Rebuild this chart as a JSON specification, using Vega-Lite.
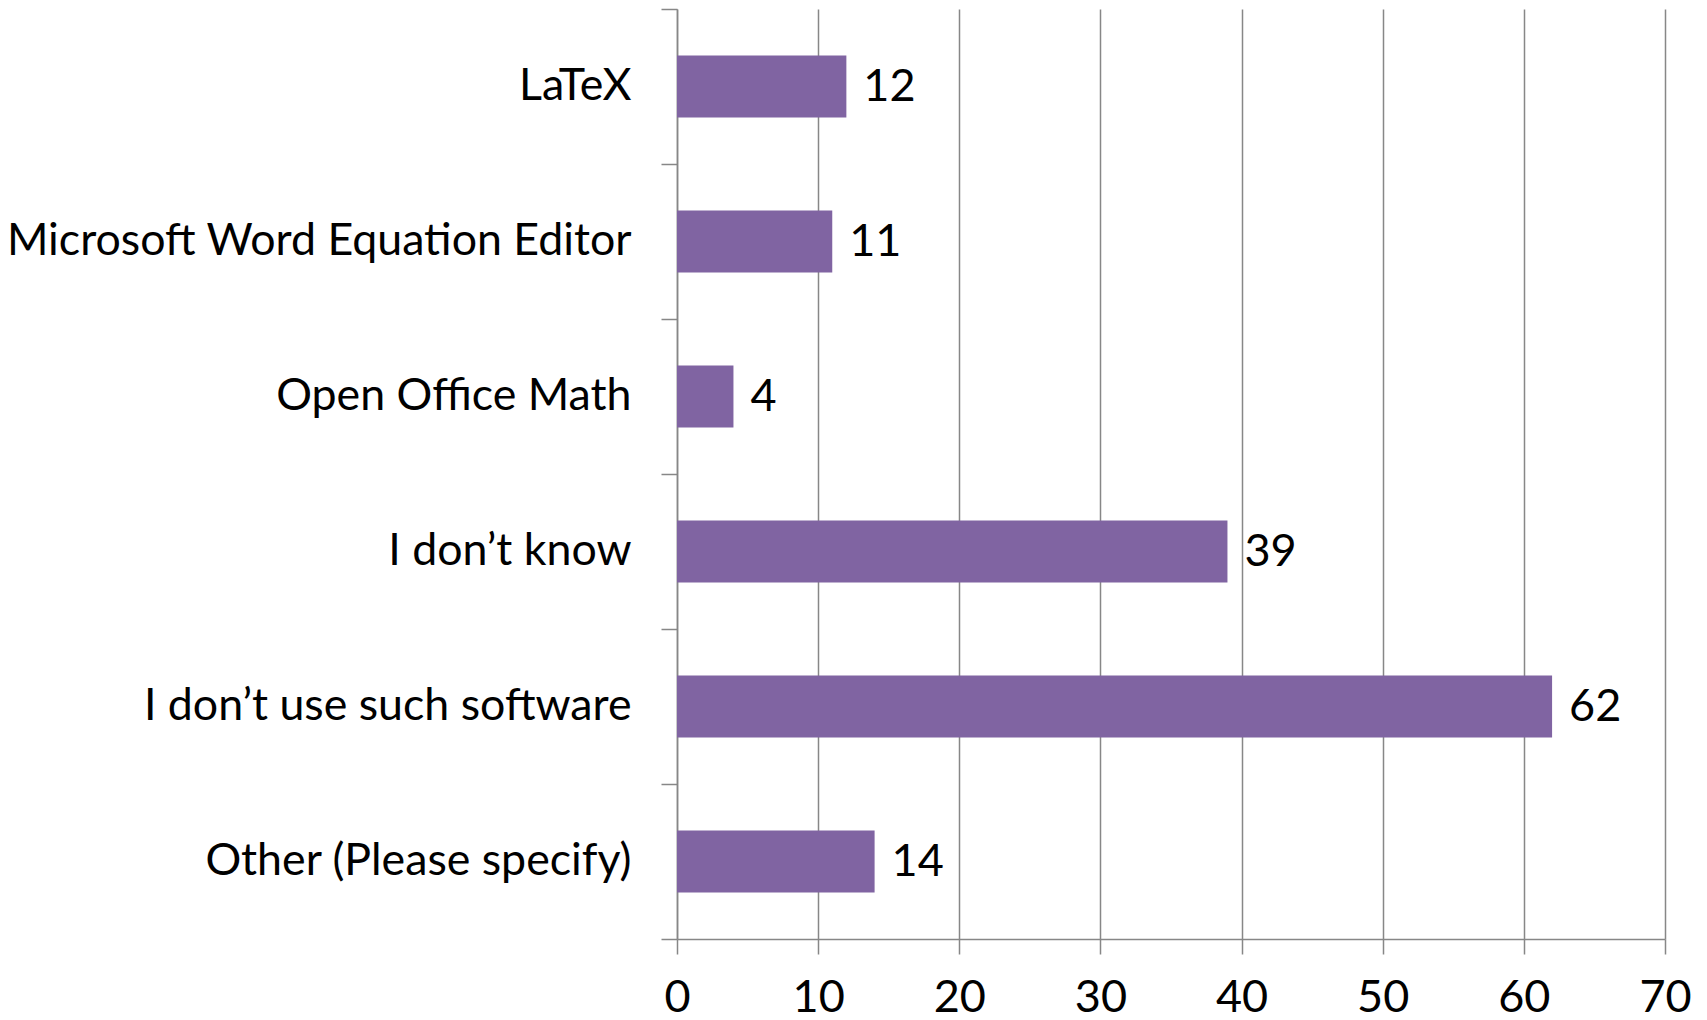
{
  "$schema": "https://vega.github.io/schema/vega-lite/v6.json",
  "autosize": "none",
  "width": 988,
  "height": 930,
  "padding": {"left": 677, "top": 9, "right": 42, "bottom": 81},
  "background": "white",
  "config": {"view": {"stroke": null}, "font": "Lato"},
  "data": {"values": [
    {"software": "LaTeX", "count": 12},
    {"software": "Microsoft Word Equation Editor", "count": 11},
    {"software": "Open Office Math", "count": 4},
    {"software": "I don’t know", "count": 39},
    {"software": "I don’t use such software", "count": 62},
    {"software": "Other (Please specify)", "count": 14}
  ]},
  "encoding": {
    "y": {"field": "software", "type": "nominal", "sort": null,
      "scale": {"paddingInner": 0, "paddingOuter": 0},
      "axis": {"title": null, "tickBand": "extent", "tickSize": 16, "tickColor": "#878787", "tickWidth": 1.5,
        "domainColor": "#878787", "domainWidth": 1.5, "labelFontSize": 44.7, "labelColor": "#000000",
        "labelPadding": 30, "labelLimit": 700, "grid": false, "labelFont": "Lato"}},
    "x": {"field": "count", "type": "quantitative",
      "scale": {"domain": [0, 70], "nice": false},
      "axis": {"title": null, "values": [0,10,20,30,40,50,60,70], "tickSize": 15, "tickColor": "#878787", "tickWidth": 1.5,
        "domainColor": "#878787", "domainWidth": 1.5, "grid": true, "gridColor": "#878787", "gridWidth": 1.5,
        "labelFontSize": 45, "labelColor": "#000000", "labelPadding": 21, "labelFont": "Lato", "labelFlush": false}}
  },
  "layer": [
    {"mark": {"type": "bar", "color": "#8064A2", "height": {"band": 0.4}}},
    {"mark": {"type": "text", "align": "left", "baseline": "middle", "dx": 17, "fontSize": 45, "color": "#000000", "font": "Lato"},
      "encoding": {"text": {"field": "count", "type": "quantitative"}}}
  ]
}
